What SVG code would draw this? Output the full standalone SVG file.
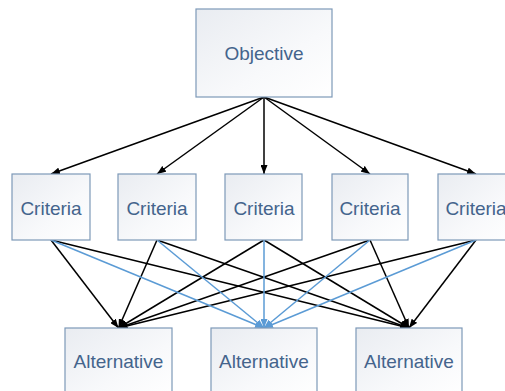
<svg xmlns="http://www.w3.org/2000/svg" width="505" height="391" viewBox="0 0 505 391">
<defs>
<linearGradient id="g" x1="0" y1="0" x2="1" y2="1">
<stop offset="0" stop-color="#E9ECF1"/>
<stop offset="0.6" stop-color="#F8F9FB"/>
<stop offset="1" stop-color="#FFFFFF"/>
</linearGradient>
<marker id="ab" markerWidth="9" markerHeight="7" refX="9" refY="3.5" orient="auto" markerUnits="userSpaceOnUse">
<path d="M0,0 L9,3.5 L0,7 Z" fill="#000"/>
</marker>
<marker id="au" markerWidth="9" markerHeight="7" refX="9" refY="3.5" orient="auto" markerUnits="userSpaceOnUse">
<path d="M0,0 L9,3.5 L0,7 Z" fill="#5B9BD5"/>
</marker>
</defs>
<style>
.box{fill:url(#g);stroke:#7D99B8;stroke-width:1.2}
.t{font-family:"Liberation Sans",Arial,sans-serif;font-size:19px;fill:#44648C;text-anchor:middle}
.k{stroke:#000;stroke-width:1.5;fill:none;marker-end:url(#ab)}
.b{stroke:#5B9BD5;stroke-width:1.5;fill:none;marker-end:url(#au)}
</style>
<g id="connectors">
<line class="k" x1="264" y1="97" x2="51" y2="174"/>
<line class="k" x1="264" y1="97" x2="157" y2="174"/>
<line class="k" x1="264" y1="97" x2="264" y2="174"/>
<line class="k" x1="264" y1="97" x2="370" y2="174"/>
<line class="k" x1="264" y1="97" x2="476" y2="174"/>
<line class="k" x1="51" y1="240" x2="118.5" y2="328"/>
<line class="k" x1="157" y1="240" x2="118.5" y2="328"/>
<line class="k" x1="264" y1="240" x2="118.5" y2="328"/>
<line class="k" x1="370" y1="240" x2="118.5" y2="328"/>
<line class="k" x1="476" y1="240" x2="118.5" y2="328"/>
<line class="k" x1="51" y1="240" x2="409" y2="328"/>
<line class="k" x1="157" y1="240" x2="409" y2="328"/>
<line class="k" x1="264" y1="240" x2="409" y2="328"/>
<line class="k" x1="370" y1="240" x2="409" y2="328"/>
<line class="k" x1="476" y1="240" x2="409" y2="328"/>
<line class="b" x1="51" y1="240" x2="264" y2="328"/>
<line class="b" x1="157" y1="240" x2="264" y2="328"/>
<line class="b" x1="264" y1="240" x2="264" y2="328"/>
<line class="b" x1="370" y1="240" x2="264" y2="328"/>
<line class="b" x1="476" y1="240" x2="264" y2="328"/>
</g>
<g id="objective"><rect class="box" x="196" y="9" width="136" height="88"/><text class="t" x="264" y="60">Objective</text></g>
<g id="criteria1"><rect class="box" x="12" y="174" width="78" height="66"/><text class="t" x="51" y="215">Criteria</text></g>
<g id="criteria2"><rect class="box" x="118" y="174" width="78" height="66"/><text class="t" x="157" y="215">Criteria</text></g>
<g id="criteria3"><rect class="box" x="225" y="174" width="77" height="66"/><text class="t" x="264" y="215">Criteria</text></g>
<g id="criteria4"><rect class="box" x="332" y="174" width="76" height="66"/><text class="t" x="370" y="215">Criteria</text></g>
<g id="criteria5"><rect class="box" x="438" y="174" width="77" height="66"/><text class="t" x="476" y="215">Criteria</text></g>
<g id="alternative1"><rect class="box" x="65" y="328" width="107" height="70"/><text class="t" x="118.5" y="368">Alternative</text></g>
<g id="alternative2"><rect class="box" x="211" y="328" width="106" height="70"/><text class="t" x="264" y="368">Alternative</text></g>
<g id="alternative3"><rect class="box" x="356" y="328" width="106" height="70"/><text class="t" x="409" y="368">Alternative</text></g>
</svg>
